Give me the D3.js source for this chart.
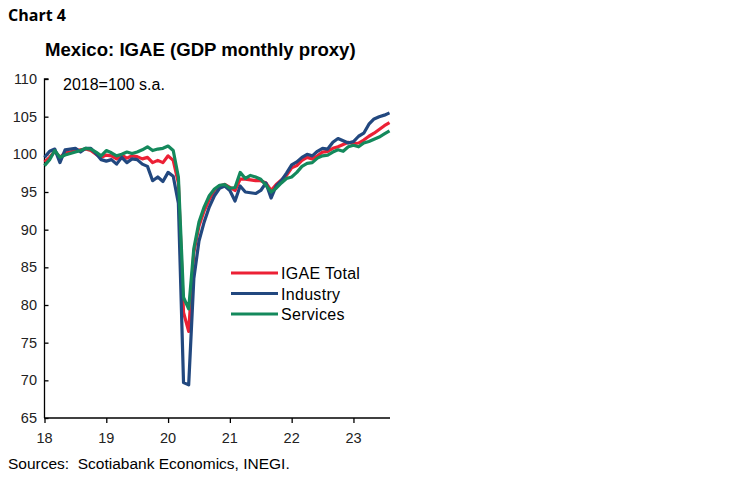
<!DOCTYPE html>
<html><head><meta charset="utf-8">
<script src="https://cdn.jsdelivr.net/npm/d3@7"></script>
<style>
body{margin:0;background:#fff;}
svg{display:block;}
text{font-family:"Liberation Sans",Arial,sans-serif;}
</style></head>
<body>
<svg id="chart" width="748" height="483"></svg>
<script>
// Monthly data Jan 2018 .. Aug 2023 (index 2018=100, s.a.)
const startYear = 2018;
const igaeTotal = [
 99.0, 99.6,100.4, 99.6,100.2,100.3,100.5,100.6,100.7,100.5,100.0, 99.6,
 99.9, 99.8, 99.4, 99.9, 99.5, 99.8, 99.7, 99.4, 99.6, 98.9, 99.2, 98.9,
 99.8, 99.2, 96.2, 79.0, 76.5, 87.0, 90.5, 92.5, 94.0, 95.2, 95.8, 96.0,
 95.6, 95.2, 96.7, 96.7, 96.6, 96.5, 96.5, 96.2, 95.2, 96.0, 96.6, 97.2,
 98.2, 98.5, 99.2, 99.6, 99.4, 99.8,100.3,100.4,100.8,101.0,101.3,101.6,
101.4,101.5,101.9,102.4,102.8,103.3,103.8,104.2];
const industry = [
 99.6,100.4,100.7, 98.9,100.6,100.7,100.8,100.3,100.8,100.8,100.1, 99.3,
 99.1, 99.3, 98.7, 99.6, 98.9, 99.4, 99.3, 98.7, 98.4, 96.5, 97.0, 96.4,
 97.6, 97.1, 93.5, 69.7, 69.4, 83.5, 88.5, 91.0, 93.0, 94.5, 95.5, 95.8,
 95.2, 93.8, 95.8, 95.0, 94.9, 94.8, 95.2, 96.2, 94.2, 95.8, 96.5, 97.5,
 98.6, 99.0, 99.6,100.0, 99.8,100.4,100.8,100.7,101.6,102.1,101.8,101.5,
101.7,102.4,102.8,104.0,104.7,105.0,105.2,105.5];
const services = [
 98.5, 99.3,100.5, 99.6, 99.9,100.1,100.3,100.5,100.8,100.7,100.3, 99.8,
100.5,100.2, 99.8,100.0,100.3,100.1,100.3,100.6,101.0,100.5,100.7,100.8,
101.1,100.5, 97.0, 81.0, 79.5, 87.5, 91.0, 93.0, 94.5, 95.4, 95.9, 96.0,
 95.5, 95.6, 97.6, 96.8, 97.2, 97.0, 96.7, 95.9, 95.0, 95.5, 96.2, 96.8,
 97.0, 97.6, 98.4, 98.8, 98.9, 99.5, 99.8, 99.9,100.3,100.6,100.4,101.0,
101.2,101.0,101.5,101.7,102.0,102.3,102.7,103.1];
const seriesNames = ["IGAE Total","Industry","Services"];
const seriesColors = ["#ec2035","#22487f","#14895c"];
const yTicks = [65,70,75,80,85,90,95,100,105,110];
const xTickYears = [18,19,20,21,22,23];

const svg = d3.select("#chart");
const L = 44.5, R = 390, T = 79, B = 418;
const x = d3.scaleLinear().domain([0, 67]).range([L, 389.5]);
const y = d3.scaleLinear().domain([65,110]).range([B, T]);

// titles
svg.append("text").attr("x",8).attr("y",21).attr("font-size",16).attr("font-weight","bold")
  .style("font-family","'Open Sans',sans-serif").attr("fill","#000").text("Chart 4");
svg.append("text").attr("x",45).attr("y",56).attr("font-size",18.6).attr("font-weight","bold")
  .attr("fill","#000").text("Mexico: IGAE (GDP monthly proxy)");
svg.append("text").attr("x",63).attr("y",90).attr("font-size",16).attr("fill","#000").text("2018=100 s.a.");

// y axis
const yAxis = d3.axisRight(y).tickValues(yTicks).tickSize(4).tickFormat("");
const gy = svg.append("g").attr("transform",`translate(${L},0)`).call(yAxis);
gy.select(".domain").attr("stroke","#000").attr("stroke-width",1.3).attr("d",`M4,${T}H0V${B}`);
gy.selectAll(".tick line").attr("stroke","#000").attr("stroke-width",1.3);
svg.append("g").selectAll("text").data(yTicks).join("text")
  .attr("x",37).attr("y",d=>y(d)+5).attr("text-anchor","end").attr("font-size",14.5)
  .attr("fill","#222").text(d=>d);

// x axis
const xTickIdx = xTickYears.map(v => (v-18)*12);
const xAxis = d3.axisBottom(x).tickValues(xTickIdx).tickSize(5).tickFormat("");
const gx = svg.append("g").attr("transform",`translate(0,${B})`).call(xAxis);
gx.select(".domain").attr("stroke","#000").attr("stroke-width",1.3).attr("d",`M${L},0H${R}`);
gx.selectAll(".tick line").attr("stroke","#000").attr("stroke-width",1.3);
svg.append("g").selectAll("text").data(xTickYears).join("text")
  .attr("x",d=>x((d-18)*12)).attr("y",443).attr("text-anchor","middle").attr("font-size",14.5)
  .attr("fill","#222").text(d=>d);

// lines
const data = [igaeTotal, industry, services];
const line = d3.line().x((d,i)=>x(i)).y(d=>y(d));
svg.append("g").selectAll("path").data(data).join("path")
  .attr("d",line).attr("fill","none")
  .attr("stroke",(d,i)=>seriesColors[i]).attr("stroke-width",3.2)
  .attr("stroke-linejoin","round");

// legend
const lg = svg.append("g").selectAll("g").data(seriesNames).join("g")
  .attr("transform",(d,i)=>`translate(231,${273+i*20.5})`);
lg.append("line").attr("x1",0).attr("x2",47).attr("y1",0).attr("y2",0)
  .attr("stroke",(d,i)=>seriesColors[i]).attr("stroke-width",3.2);
lg.append("text").attr("x",50).attr("y",6).attr("font-size",16).attr("letter-spacing",0.3)
  .attr("fill","#000").text(d=>d);

// source
svg.append("text").attr("x",8).attr("y",469).attr("font-size",15.5).attr("fill","#000")
  .style("white-space","pre").text("Sources:  Scotiabank Economics, INEGI.");
</script>
</body></html>
